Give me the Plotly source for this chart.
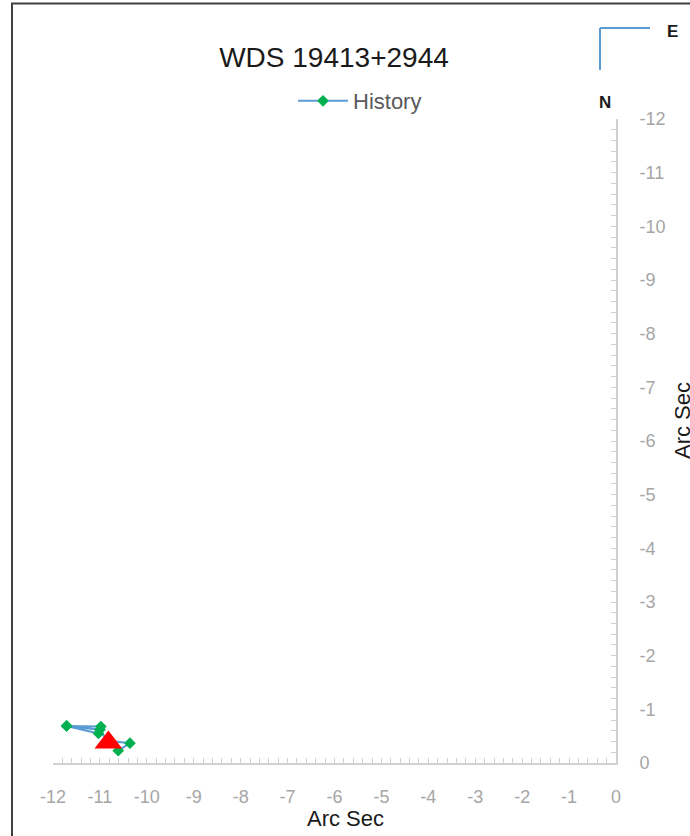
import plotly.graph_objects as go

# Data
hist_x = [-10.98, -11.71, -11.03, -11.71, -11.00, -10.85, -10.36, -10.61]
hist_y = [-0.68, -0.69, -0.55, -0.69, -0.62, -0.42, -0.37, -0.23]
last_x = [-10.82]
last_y = [-0.38]

x_tickvals = [-12, -11, -10, -9, -8, -7, -6, -5, -4, -3, -2, -1, 0]
x_ticktext = ["-12", "-11", "-10", "-9", "-8", "-7", "-6", "-5", "-4", "-3", "-2", "-1", "0"]
y_tickvals = [-12, -11, -10, -9, -8, -7, -6, -5, -4, -3, -2, -1, 0]
y_ticktext = ["-12", "-11", "-10", "-9", "-8", "-7", "-6", "-5", "-4", "-3", "-2", "-1", "0"]

W, H = 690, 836
# plot area in screenshot pixels
L, R, T, B = 53, 616, 119, 763


def px_x(p):
    return (p - L) / (R - L)


def px_y(p):
    return (B - p) / (B - T)


FONT = "Liberation Sans"
AXIS_COLOR = "#D0D0D0"
TICK_FONT = dict(family=FONT, size=18, color="#A6A6A6")

fig = go.Figure()
fig.add_trace(go.Scatter(
    x=hist_x, y=hist_y, mode="lines+markers", name="History",
    line=dict(color="#5B9BD5", width=2),
    marker=dict(symbol="diamond", size=9, color="#00B050"),
))
fig.add_trace(go.Scatter(
    x=last_x, y=last_y, mode="markers", showlegend=False,
    marker=dict(symbol="triangle-up", size=24, color="#FF0000"),
))

fig.update_layout(
    width=W, height=H,
    margin=dict(l=L, r=W - R, t=T, b=H - B, pad=0, autoexpand=False),
    paper_bgcolor="white", plot_bgcolor="white",
    font=dict(family=FONT),
    title=dict(text="WDS 19413+2944", x=334 / W, xanchor="center",
               y=1 - 57 / H, yanchor="middle", xref="container", yref="container",
               font=dict(family=FONT, size=28, color="#1a1a1a")),
    legend=dict(x=px_x(293), y=px_y(101), xref="paper", yref="paper",
                xanchor="left", yanchor="middle", bgcolor="rgba(0,0,0,0)",
                font=dict(family=FONT, size=22, color="#595959"),
                itemwidth=50),
    xaxis=dict(range=[-12, 0], tickvals=x_tickvals, ticktext=x_ticktext,
               showgrid=False, zeroline=False, showline=True, automargin=False,
               linecolor=AXIS_COLOR, linewidth=2, tickangle=0,
               ticks="inside", ticklen=5, tickcolor=AXIS_COLOR, tickwidth=1,
               minor=dict(ticks="inside", dtick=0.2, ticklen=5, tickcolor=AXIS_COLOR, tickwidth=1),
               tickfont=TICK_FONT, ticklabelstandoff=16),
    yaxis=dict(range=[0, -12], tickvals=y_tickvals, ticktext=y_ticktext,
               side="right", showgrid=False, zeroline=False, showline=True, automargin=False,
               linecolor=AXIS_COLOR, linewidth=2,
               ticks="inside", ticklen=5, tickcolor=AXIS_COLOR, tickwidth=1,
               minor=dict(ticks="inside", dtick=0.2, ticklen=5, tickcolor=AXIS_COLOR, tickwidth=1),
               tickfont=TICK_FONT, ticklabelstandoff=18),
    showlegend=True,
)

# chart border (cropped at right/bottom)
fig.add_shape(type="rect", xref="paper", yref="paper",
              x0=px_x(12), x1=px_x(720), y0=px_y(860), y1=px_y(3.5),
              line=dict(color="#404040", width=2), fillcolor="rgba(0,0,0,0)", layer="below")
# compass
fig.add_shape(type="line", xref="paper", yref="paper",
              x0=px_x(600), x1=px_x(600), y0=px_y(70), y1=px_y(28),
              line=dict(color="#5B9BD5", width=2))
fig.add_shape(type="line", xref="paper", yref="paper",
              x0=px_x(600), x1=px_x(650), y0=px_y(28), y1=px_y(28),
              line=dict(color="#5B9BD5", width=2))


def note(x, y, text, size, angle=0, color="#1a1a1a"):
    fig.add_annotation(x=px_x(x), y=px_y(y), xref="paper", yref="paper", text=text,
                       xanchor="center", yanchor="middle", textangle=angle,
                       showarrow=False, font=dict(family=FONT, size=size, color=color))


note(672, 32, "<b>E</b>", 17)
note(605, 103, "<b>N</b>", 17)
# axis titles
note(345, 818, "Arc Sec", 22)
note(682, 421, "Arc Sec", 22, angle=-90)

fig.write_html("out.html", config={"displayModeBar": False},
               post_script="document.body.style.margin='0';document.body.style.overflow='hidden';")
